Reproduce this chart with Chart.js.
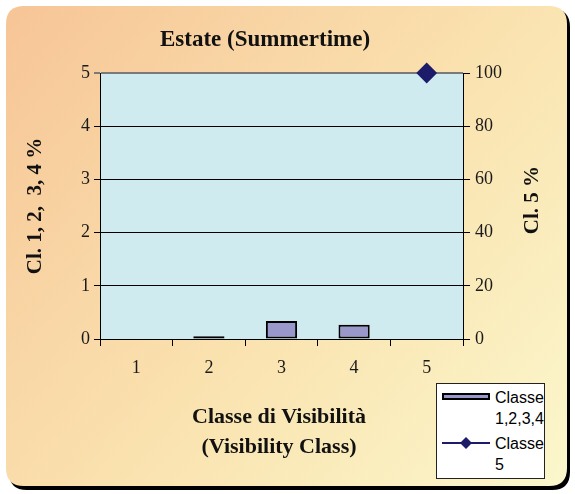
<!DOCTYPE html>
<html><head><meta charset="utf-8">
<script src="https://cdn.jsdelivr.net/npm/chart.js@4"></script>
<style>
html,body{margin:0;padding:0;background:#fff;}
#wrap{position:relative;width:575px;height:494px;}
canvas{display:block;}
#legend{position:absolute;left:436px;top:383px;width:109px;height:96px;background:#fff;border:1px solid #222;box-sizing:border-box;font-family:"Liberation Sans",Arial,sans-serif;font-size:16px;line-height:21px;color:#000;}
.item{position:absolute;left:58px;}
.sw{position:absolute;}
</style>
</head><body>
<div id="wrap">
<canvas id="c" width="575" height="494"></canvas>
<div id="legend">
  <div class="sw" style="left:5px;top:9px;width:48px;height:7px;background:#9A97CB;border:2px solid #000;box-sizing:border-box;"></div>
  <div class="item" style="top:3px;">Classe<br>1,2,3,4</div>
  <svg class="sw" style="left:5px;top:50px;" width="48" height="18"><line x1="0" y1="9" x2="48" y2="9" stroke="#1C1C6B" stroke-width="2"/><polygon points="24,3 30,9 24,15 18,9" fill="#1C1C6B"/></svg>
  <div class="item" style="top:49px;">Classe<br>5</div>
</div>
</div>
<script>
const categories = ['1', '2', '3', '4', '5'];
const barValues = [null, 0.05, 0.34, 0.27, null];
const lineValues = [null, null, null, null, 100];
const leftTickValues = [0, 1, 2, 3, 4, 5];
const rightTickValues = [0, 20, 40, 60, 80, 100];
const chartTitle = 'Estate (Summertime)';
const xTitle = ['Classe di Visibilità', '(Visibility Class)'];
const yLeftTitle = 'Cl. 1, 2,  3, 4 %';
const yRightTitle = 'Cl. 5 %';

const serif = '"Liberation Serif", "Times New Roman", serif';
const tickFont = {family: serif, size: 18};

function roundRect(ctx, x, y, w, h, r) {
  ctx.beginPath();
  ctx.moveTo(x + r, y);
  ctx.lineTo(x + w - r, y);
  ctx.quadraticCurveTo(x + w, y, x + w, y + r);
  ctx.lineTo(x + w, y + h - r);
  ctx.quadraticCurveTo(x + w, y + h, x + w - r, y + h);
  ctx.lineTo(x + r, y + h);
  ctx.quadraticCurveTo(x, y + h, x, y + h - r);
  ctx.lineTo(x, y + r);
  ctx.quadraticCurveTo(x, y, x + r, y);
  ctx.closePath();
}

const decor = {
  id: 'decor',
  beforeDraw(chart) {
    const ctx = chart.ctx;
    ctx.save();
    roundRect(ctx, 9, 9, 561, 481, 18);
    ctx.fillStyle = '#000';
    ctx.fill();
    const g = ctx.createLinearGradient(6, 6, 567, 486);
    g.addColorStop(0, '#F7C597');
    g.addColorStop(0.55, '#FAE3B0');
    g.addColorStop(1, '#FBF7CC');
    roundRect(ctx, 6, 6, 561, 480, 18);
    ctx.fillStyle = g;
    ctx.fill();
    const a = chart.chartArea;
    ctx.fillStyle = '#D0EBEF';
    ctx.fillRect(a.left, a.top, a.right - a.left, a.bottom - a.top);
    ctx.restore();
  },
  afterDraw(chart) {
    const ctx = chart.ctx;
    ctx.save();
    ctx.fillStyle = '#111';
    ctx.textAlign = 'center';
    ctx.textBaseline = 'middle';
    ctx.font = 'bold 23px ' + serif;
    ctx.fillText(chartTitle, 265, 40);
    ctx.font = 'bold 22px ' + serif;
    ctx.fillText(xTitle[0], 279, 417);
    ctx.fillText(xTitle[1], 279, 447);
    ctx.font = 'bold 21px ' + serif;
    ctx.save();
    ctx.translate(36, 206);
    ctx.rotate(-Math.PI / 2);
    ctx.fillText(yLeftTitle, 0, 0);
    ctx.restore();
    ctx.save();
    ctx.translate(533, 200);
    ctx.rotate(-Math.PI / 2);
    ctx.fillText(yRightTitle, 0, 0);
    ctx.restore();
    ctx.restore();
  }
};

new Chart(document.getElementById('c'), {
  data: {
    labels: categories,
    datasets: [
      {
        type: 'line', label: 'Classe 5', data: lineValues, yAxisID: 'y1', order: 1,
        borderColor: '#1C1C6B', backgroundColor: '#1C1C6B', borderWidth: 2,
        pointStyle: 'rectRot', pointRadius: 9, pointHoverRadius: 9, clip: false, spanGaps: false
      },
      {
        type: 'bar', label: 'Classe 1,2,3,4', data: barValues, yAxisID: 'y', order: 2,
        backgroundColor: '#9A97CB', borderColor: '#000', borderWidth: 2, borderSkipped: false,
        barPercentage: 0.43, categoryPercentage: 1
      }
    ]
  },
  options: {
    responsive: false,
    animation: false,
    events: [],
    layout: {padding: {top: 73, left: 0, right: 0, bottom: 0}},
    plugins: {legend: {display: false}, title: {display: false}, tooltip: {enabled: false}},
    scales: {
      x: {
        type: 'category', offset: true,
        grid: {offset: true, drawOnChartArea: false, color: '#000', tickLength: 7},
        border: {color: '#000', width: 1},
        ticks: {font: tickFont, color: '#1a1a1a', padding: 11},
        afterFit(s) { s.height = 155; }
      },
      y: {
        position: 'left', min: 0, max: 5,
        afterBuildTicks(s) { s.ticks = leftTickValues.map(v => ({value: v})); },
        grid: {color: c => (c.tick && c.tick.value === 5) ? '#7a7a7a' : '#000', lineWidth: c => (c.tick && c.tick.value === 5) ? 2 : 1, tickLength: 6},
        border: {color: '#000', width: 1},
        ticks: {font: tickFont, color: '#1a1a1a', padding: 4},
        afterFit(s) { s.width = 100; }
      },
      y1: {
        position: 'right', min: 0, max: 100,
        afterBuildTicks(s) { s.ticks = rightTickValues.map(v => ({value: v})); },
        grid: {drawOnChartArea: false, color: '#000', tickLength: 7},
        border: {color: '#000', width: 1},
        ticks: {font: tickFont, color: '#1a1a1a', padding: 5},
        afterFit(s) { s.width = 112; }
      }
    }
  },
  plugins: [decor]
});
</script>
</body></html>
